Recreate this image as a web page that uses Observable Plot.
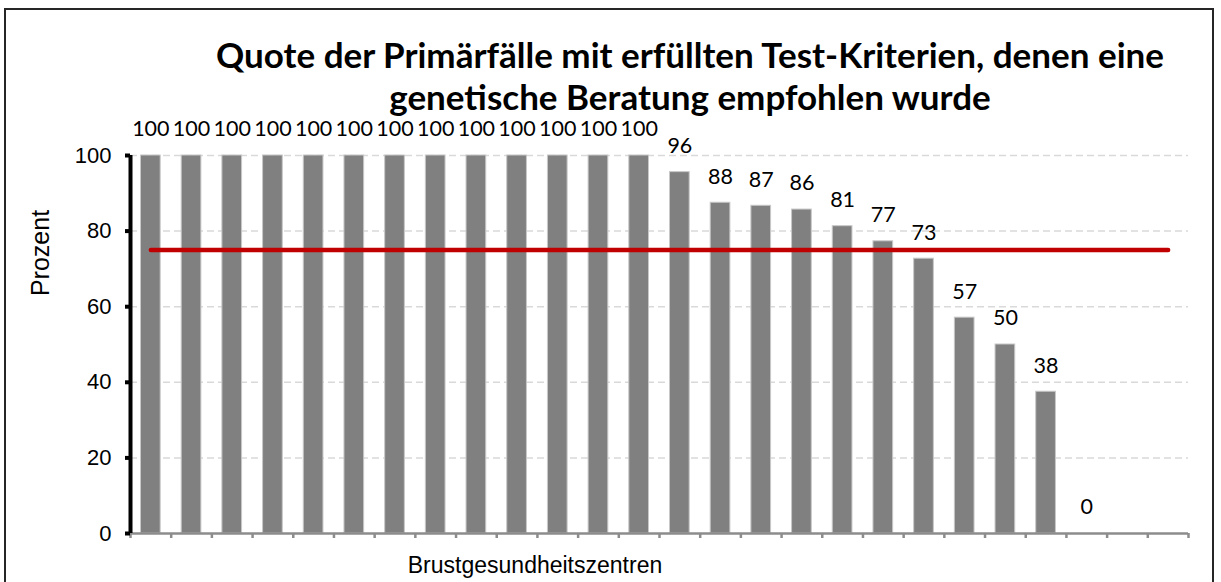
<!DOCTYPE html>
<html>
<head>
<meta charset="utf-8">
<script src="https://cdn.jsdelivr.net/npm/d3@7"></script>
<script src="https://cdn.jsdelivr.net/npm/@observablehq/plot@0.6"></script>
<style>
  html, body { margin: 0; padding: 0; background: #fff; }
  #wrap { position: relative; width: 1221px; height: 582px; overflow: hidden; }
  #border { position: absolute; left: 4px; top: 8px; width: 1210px; height: 580px; border: 2px solid #262626; box-sizing: border-box; pointer-events: none; }
  #title { position: absolute; left: 160px; width: 1060px; top: 33px; text-align: center; font-family: Lato, "Open Sans", sans-serif; font-weight: bold; font-size: 35px; line-height: 42px; color: #000; white-space: nowrap; }
  #ylab { position: absolute; left: 40px; top: 253px; transform: translate(-50%, -50%) rotate(-90deg); font-family: "Liberation Sans", Arial, sans-serif; font-size: 25px; white-space: nowrap; }
  #xlab { position: absolute; left: 535px; top: 565px; transform: translate(-50%, -50%); font-family: "Liberation Sans", Arial, sans-serif; font-size: 23px; white-space: nowrap; }
  #chart { position: absolute; left: 0; top: 0; }
</style>
</head>
<body>
<div id="wrap">
  <div id="chart"></div>
  <div id="title">Quote der Primärfälle mit erfüllten Test-Kriterien, denen eine<br>genetische Beratung empfohlen wurde</div>
  <div id="ylab">Prozent</div>
  <div id="xlab">Brustgesundheitszentren</div>
  <div id="border"></div>
</div>
<script>
// Data
const centers = d3.range(1, 27).map(i => "Zentrum " + i);
const values = [100, 100, 100, 100, 100, 100, 100, 100, 100, 100, 100, 100, 100,
                95.6, 87.5, 86.7, 85.7, 81.3, 77.3, 72.7, 57.1, 50, 37.5, 0, null, null];
const valueLabels = ["100", "100", "100", "100", "100", "100", "100", "100", "100", "100", "100", "100", "100",
                     "96", "88", "87", "86", "81", "77", "73", "57", "50", "38", "0", "", ""];
const target = 75;
const yTicks = [0, 20, 40, 60, 80, 100];

const data = centers.map((c, i) => ({center: c, i, value: values[i], label: valueLabels[i]}));
const shown = data.filter(d => d.value != null);

const plot = Plot.plot({
  width: 1221,
  height: 582,
  marginTop: 155,
  marginBottom: 49,
  marginLeft: 130,
  marginRight: 33,
  style: {fontFamily: "'Liberation Sans', Arial, sans-serif", fontSize: "22px", color: "#000", background: "transparent"},
  x: {domain: [0, centers.length], axis: null},
  y: {domain: [0, 100], axis: null},
  marks: [
    Plot.ruleY(yTicks.filter(t => t > 0), {stroke: "#d9d9d9", strokeWidth: 1.5, strokeDasharray: "7,4"}),
    Plot.rectY(shown, {x1: d => d.i, x2: d => d.i + 1, y: "value", insetLeft: 10.5, insetRight: 10.5, fill: "#808080", stroke: "#c8c8c8", strokeWidth: 1}),
    Plot.ruleY([0], {stroke: "#8c8c8c", strokeWidth: 2.5}),
    Plot.axisX({ticks: d3.range(centers.length + 1), tickSize: 5, tickFormat: () => "", stroke: "#8c8c8c", strokeWidth: 2.5, label: null}),
    Plot.ruleX([0], {y1: 0, y2: 100, stroke: "#000", strokeWidth: 4}),
    Plot.axisY({ticks: yTicks, tickSize: 5, tickPadding: 14, stroke: "#000", strokeWidth: 4, label: null, fontSize: 22}),
    Plot.lineY(data, {x: d => d.i + 0.5, y: () => target, stroke: "#c00000", strokeWidth: 4.5}),
    Plot.text(shown, {x: d => d.i + 0.5, y: "value", text: "label", dy: -26, lineAnchor: "middle", fontFamily: "Lato, 'Open Sans', sans-serif", fontSize: 21.5, fill: "#000"})
  ]
});
document.getElementById("chart").appendChild(plot);
</script>
</body>
</html>
